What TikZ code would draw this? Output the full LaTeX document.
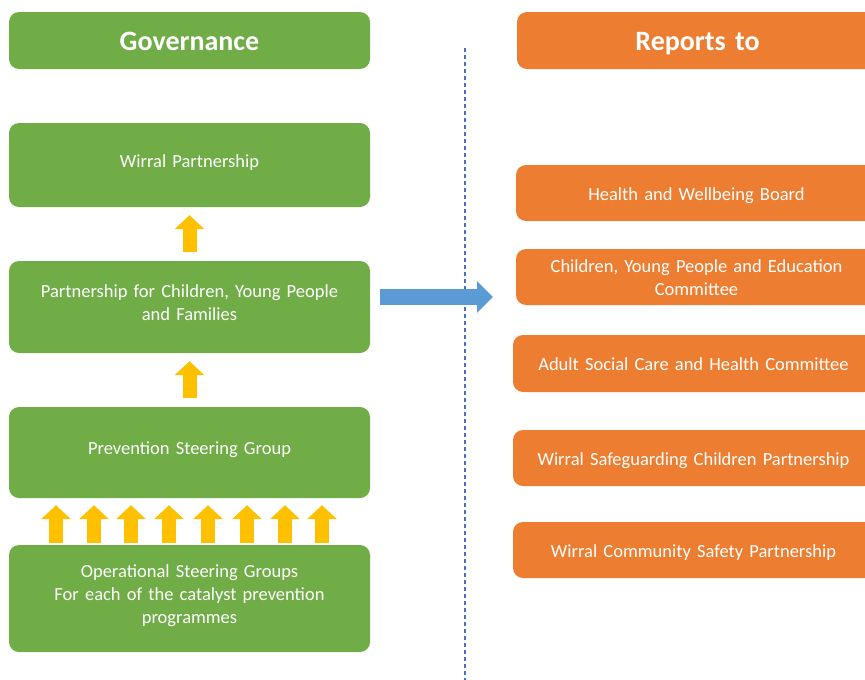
\documentclass[tikz,border=0pt]{standalone}
\usepackage{fontspec}
\setmainfont{Carlito}
\usetikzlibrary{arrows.meta}
\definecolor{govgreen}{HTML}{70AD47}
\definecolor{reporange}{HTML}{ED7D31}
\definecolor{upyellow}{HTML}{FFC000}
\definecolor{sideblue}{HTML}{5B9BD5}
\definecolor{lineblue}{HTML}{4472C4}
\begin{document}
\begin{tikzpicture}[x=1pt, y=-1pt,
	lift/.style 2 args = {execute at begin node={\rule{0pt}{#1}}, execute at end node={\rule[-#2]{0pt}{#2}}},
	box/.style = {rounded corners=10pt, text=white, minimum width=361pt, text width=345pt, align=center, inner sep=0pt, font=\fontsize{18.5}{23}\selectfont},
	title/.style = {font=\fontsize{28}{32}\selectfont\bfseries},
	gov/.style = {box, fill=govgreen, lift={16pt}{12pt}},
	rep/.style = {box, fill=reporange, lift={22pt}{8pt}},
	govtitle/.style = {box, title, fill=govgreen, lift={26pt}{6pt}},
	reptitle/.style = {box, title, fill=reporange, lift={26pt}{6pt}},
	up/.style = {draw=upyellow, line width=14pt, -{Triangle[width=29pt, length=14pt]}},
	side/.style = {draw=sideblue, line width=16pt, -{Triangle[width=31pt, length=16pt]}},
	divider/.style = {draw=lineblue, line width=1.1pt, dash pattern=on 4pt off 3pt}]
		\useasboundingbox (0,0) rectangle (865,680);
		\clip (0,0) rectangle (865,680);
		% governance side
		\node[govtitle, minimum height=57pt] (govhead) at (189.5,40.5) {Governance};
		\node[gov, minimum height=84pt] (wp) at (189.5,165) {Wirral Partnership};
		\node[gov, minimum height=92pt] (pcyp) at (189.5,307) {Partnership for Children, Young People\\and Families};
		\node[gov, minimum height=91pt] (psg) at (189.5,452.5) {Prevention Steering Group};
		\node[gov, minimum height=107pt] (osg) at (189.5,598.5) {Operational Steering Groups\\For each of the catalyst prevention\\programmes};
		% reports side
		\node[reptitle, minimum height=57pt] (rephead) at (697.5,40.5) {Reports to};
		\node[rep, minimum height=56pt] (hwb) at (696.5,193) {Health and Wellbeing Board};
		\node[rep, minimum height=56pt] (cype) at (696.5,277) {Children, Young People and Education\\Committee};
		\node[rep, minimum height=57pt] (ascw) at (693.5,363.5) {Adult Social Care and Health Committee};
		\node[rep, minimum height=56pt] (wscp) at (693.5,458) {Wirral Safeguarding Children Partnership};
		\node[rep, minimum height=56pt] (wcsp) at (693.5,550) {Wirral Community Safety Partnership};
		% divider
		\coordinate (ltop) at (465,48);
		\coordinate (lbot) at (465,680);
		\draw[divider] (ltop) -- (lbot);
		% arrows
		\draw[up, shorten <=9pt, shorten >=8pt] (pcyp.north) -- (wp.south);
		\draw[up, shorten <=9pt, shorten >=8pt] (psg.north) -- (pcyp.south);
		\foreach \x in {56,94,131,169,208,247,285,322}
			\draw[up, shorten <=2pt, shorten >=7pt] (\x,0 |- osg.north) -- (\x,0 |- psg.south);
		\coordinate (tip) at (493,297);
		\draw[side, shorten <=10pt] (pcyp.east |- tip) -- (tip);
	\end{tikzpicture}
\end{document}
